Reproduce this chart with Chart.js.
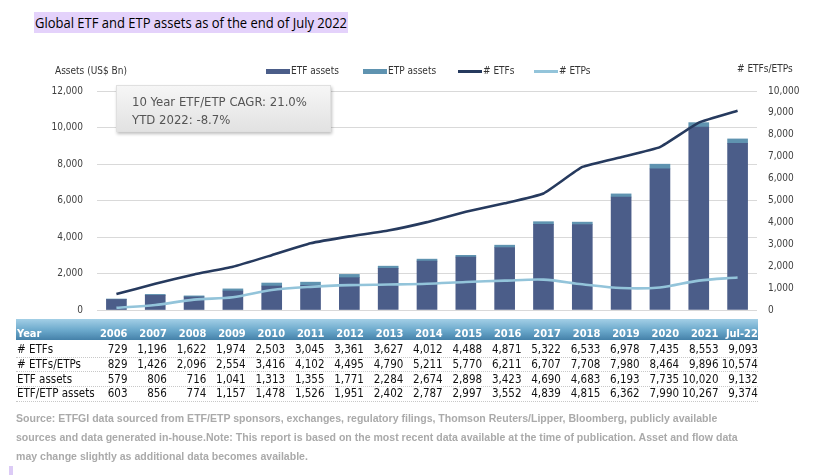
<!DOCTYPE html>
<html><head><meta charset="utf-8">
<script src="https://cdn.jsdelivr.net/npm/chart.js@4.4.1/dist/chart.umd.min.js"></script>
<style>
html,body{margin:0;padding:0;background:#fff;}
#wrap{position:relative;width:828px;height:475px;overflow:hidden;background:#fff;}
#c{position:absolute;left:0;top:0;}
.abs{position:absolute;white-space:nowrap;}
.cond{font-family:"DejaVu Sans Condensed","DejaVu Sans",sans-serif;font-stretch:condensed;}
#titlebox{left:34px;top:12px;width:314px;height:21px;background:#e4d2fb;overflow:hidden;}
#title{left:1px;top:0;color:#000;font-family:"Open Sans",sans-serif;font-size:15px;line-height:21px;transform-origin:0 0;}
.lg{font-size:10px;color:#333;line-height:12px;}
.sw{position:absolute;}
#note{left:116px;top:85px;width:215px;height:47px;background:linear-gradient(#f6f6f6,#e2e2e2);box-shadow:1px 2px 3px rgba(0,0,0,0.25);border:1px solid #e0e0e0;box-sizing:border-box;}
#note div{position:absolute;left:15px;font-size:13px;color:#555;}
#hdr{left:16px;top:319px;width:742px;height:21px;background:linear-gradient(#a3cfe6,#6aa8cb 55%,#4581a9);}
.cell{position:absolute;font-size:11.5px;color:#111;line-height:14px;text-align:right;}
.hcell{color:#fff;font-weight:bold;font-size:11px;}
.sep{position:absolute;left:16px;width:742px;height:0;border-top:1px dotted #c8c8c8;}
.src{left:16px;font-family:"Liberation Sans",Arial,sans-serif;font-weight:bold;font-size:10.55px;color:#aaaaaa;}
</style></head><body>
<div id="wrap">
<canvas id="c" width="828" height="475"></canvas>
<div id="titlebox" class="abs"><div id="title" class="abs">Global ETF and ETP assets as of the end of July 2022</div></div>
<div class="abs lg cond" style="left:55px;top:65px;">Assets (US$ Bn)</div>
<div class="abs lg cond" style="left:737px;top:63px;"># ETFs/ETPs</div>
<div id="legend"></div>
<div id="note" class="abs cond"><div style="top:8px;">10 Year ETF/ETP CAGR: 21.0%</div><div style="top:26px;">YTD 2022: -8.7%</div></div>
<div id="hdr" class="abs"></div>
<div id="table"></div>
<div class="abs src" style="top:412px;">Source: ETFGI data sourced from ETF/ETP sponsors, exchanges, regulatory filings, Thomson Reuters/Lipper, Bloomberg, publicly available</div>
<div class="abs src" style="top:431px;">sources and data generated in-house.Note: This report is based on the most recent data available at the time of publication. Asset and flow data</div>
<div class="abs src" style="top:450px;">may change slightly as additional data becomes available.</div>
<div class="abs" style="left:9px;top:466px;width:4px;height:9px;background:#dccbf6;"></div>
</div>
<script>
const years = ["2006","2007","2008","2009","2010","2011","2012","2013","2014","2015","2016","2017","2018","2019","2020","2021","Jul-22"];
const etfCounts = [729,1196,1622,1974,2503,3045,3361,3627,4012,4488,4871,5322,6533,6978,7435,8553,9093];
const etfEtpCounts = [829,1426,2096,2554,3416,4102,4495,4790,5211,5770,6211,6707,7708,7980,8464,9896,10574];
const etpCounts = [100,230,474,580,913,1057,1134,1163,1199,1282,1340,1385,1175,1002,1029,1343,1481];
const etfAssets = [579,806,716,1041,1313,1355,1771,2284,2674,2898,3423,4690,4683,6193,7735,10020,9132];
const etfEtpAssets = [603,856,774,1157,1478,1526,1951,2402,2787,2997,3552,4839,4815,6362,7990,10267,9374];
const etpAssets = [24,50,58,116,165,171,180,118,113,99,129,149,132,169,255,247,242];
const leftTicks = [0,2000,4000,6000,8000,10000,12000];
const rightTicks = [0,1000,2000,3000,4000,5000,6000,7000,8000,9000,10000];

const C_ETF_BAR = '#4b5d89';
const C_ETP_BAR = '#5f93b0';
const C_ETF_LINE = '#263a5e';
const C_ETP_LINE = '#93c4da';
const fmt = v => Number(v).toLocaleString('en-US');
const tickFont = {family:'"DejaVu Sans Condensed","DejaVu Sans",sans-serif', size:10};

new Chart(document.getElementById('c'), {
  type:'bar',
  data:{
    labels: years,
    datasets:[
      {type:'line', label:'# ETFs', data:etfCounts, yAxisID:'y1', borderColor:C_ETF_LINE, borderWidth:2.6, pointRadius:0, tension:0.12, order:0, fill:false},
      {type:'line', label:'# ETPs', data:etpCounts, yAxisID:'y1', borderColor:C_ETP_LINE, borderWidth:2.6, pointRadius:0, tension:0.3, order:0, fill:false},
      {label:'ETF assets', data:etfAssets, yAxisID:'y', backgroundColor:C_ETF_BAR, barThickness:20, order:1, stack:'a'},
      {label:'ETP assets', data:etpAssets, yAxisID:'y', backgroundColor:C_ETP_BAR, barThickness:20, order:1, stack:'a'}
    ]
  },
  options:{
    responsive:false, animation:false,
    layout:{padding:{top:91,bottom:165,left:0,right:0}},
    plugins:{legend:{display:false}, tooltip:{enabled:false}},
    scales:{
      x:{stacked:true, display:false, offset:true},
      y:{stacked:true, position:'left', min:0, max:12000,
         afterBuildTicks(s){ s.ticks = leftTicks.map(v=>({value:v})); },
         ticks:{padding:14, color:'#404040', font:tickFont, callback:v=>fmt(v)},
         grid:{color:'#d9d9d9', lineWidth:1, drawTicks:false},
         border:{display:false},
         afterFit(s){ s.width = 97; }},
      y1:{position:'right', min:0, max:10000,
         afterBuildTicks(s){ s.ticks = rightTicks.map(v=>({value:v})); },
         ticks:{padding:11, color:'#404040', font:tickFont, callback:v=>fmt(v)},
         grid:{display:false, drawTicks:false},
         border:{display:false},
         afterFit(s){ s.width = 71; }}
    }
  }
});

// title fit
const tEl = document.getElementById('title');
const tw = tEl.getBoundingClientRect().width;
tEl.style.transform = 'scaleX(' + (312/tw) + ')';

// legend
const legendItems = [
  {label:'ETF assets', kind:'bar', color:C_ETF_BAR, x:266},
  {label:'ETP assets', kind:'bar', color:C_ETP_BAR, x:363},
  {label:'# ETFs', kind:'line', color:C_ETF_LINE, x:458},
  {label:'# ETPs', kind:'line', color:C_ETP_LINE, x:534}
];
const lg = document.getElementById('legend');
legendItems.forEach(it=>{
  const sw = document.createElement('div');
  sw.className='sw';
  sw.style.left = it.x+'px';
  sw.style.width = '24px';
  sw.style.background = it.color;
  if(it.kind==='bar'){ sw.style.top='69px'; sw.style.height='5px'; }
  else { sw.style.top='70px'; sw.style.height='2.5px'; }
  lg.appendChild(sw);
  const t = document.createElement('div');
  t.className='abs lg cond';
  t.style.left = (it.x+25)+'px';
  t.style.top = '65px';
  t.textContent = it.label;
  lg.appendChild(t);
});

// table
const rows = [
  {name:'# ETFs', vals:etfCounts},
  {name:'# ETFs/ETPs', vals:etfEtpCounts},
  {name:'ETF assets', vals:etfAssets},
  {name:'ETF/ETP assets', vals:etfEtpAssets}
];
const tb = document.getElementById('table');
function addCell(text, right, top, cls, left){
  const d = document.createElement('div');
  d.className = 'cell cond ' + (cls||'');
  if(left!==undefined){ d.style.left = left+'px'; d.style.textAlign='left'; }
  else { d.style.left = (right-60)+'px'; d.style.width='60px'; }
  d.style.top = top+'px';
  d.textContent = text;
  tb.appendChild(d);
}
const colRight = i => 127.5 + i*39.4;
addCell('Year', 0, 327, 'hcell', 17);
years.forEach((y,i)=>addCell(y, colRight(i), 327, 'hcell'));
rows.forEach((r,ri)=>{
  const top = 342 + ri*14.8;
  addCell(r.name, 0, top, '', 17);
  r.vals.forEach((v,i)=>addCell(fmt(v), colRight(i), top, ''));
  const s = document.createElement('div');
  s.className='sep';
  s.style.top = (top+14.5)+'px';
  tb.appendChild(s);
});
</script>
</body></html>
